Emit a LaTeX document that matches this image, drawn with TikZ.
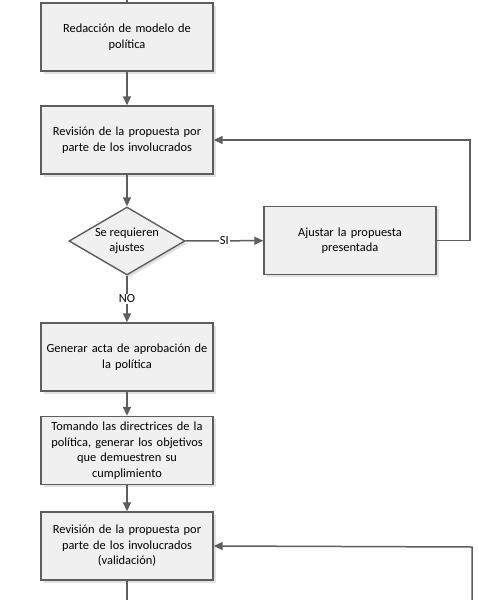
\documentclass[tikz,border=0pt]{standalone}
\usepackage{fontspec}
\setmainfont{Carlito}
\usetikzlibrary{arrows.meta,shapes.geometric,shadows}
\definecolor{boxfill}{HTML}{F0F0F0}
\definecolor{edgegray}{HTML}{5E5E5E}
\definecolor{shadowgray}{HTML}{E2E2E2}
\begin{document}
\begin{tikzpicture}[x=1pt,y=-1pt,
  every node/.style={font=\fontsize{12.4}{15.5}\selectfont, text=black},
  proc/.style={draw=edgegray, line width=1.4pt, fill=boxfill, minimum width=172pt, minimum height=68pt,
    align=center, text width=166pt, inner sep=0pt,
    drop shadow={shadow xshift=2.5pt, shadow yshift=-2.5pt, fill=shadowgray, opacity=1}},
  decis/.style={draw=edgegray, line width=1.4pt, fill=boxfill, diamond, aspect=1.7, inner sep=0pt,
    minimum width=116pt, minimum height=68pt, align=center,
    drop shadow={shadow xshift=2.5pt, shadow yshift=-2.5pt, fill=shadowgray, opacity=1}},
  conn/.style={draw=edgegray, line width=1.5pt},
  arr/.style={conn, -{Triangle[width=8pt,length=9pt]}},
  lbl/.style={fill=white, inner sep=1pt}
]
\useasboundingbox (0,0) rectangle (479,600);
\node[proc] (b1) at (127,37) {Redacción de modelo de\\política};
\node[proc] (b2) at (127,140) {Revisión de la propuesta por\\parte de los involucrados};
\node[decis] (d1) at (127,241) {Se requieren\\ajustes};
\node[proc] (b3) at (350,240.5) {Ajustar la propuesta\\presentada};
\node[proc] (b4) at (127,357) {Generar acta de aprobación de\\la política};
\node[proc] (b5) at (127,450.5) {Tomando las directrices de la\\política, generar los objetivos\\que demuestren su\\cumplimiento};
\node[proc] (b6) at (127,546) {Revisión de la propuesta por\\parte de los involucrados\\(validación)};

\coordinate (top) at (127,0);
\coordinate (r1) at (470,240.5);
\coordinate (r2) at (470,140);
\coordinate (br) at (472,600);
\coordinate (br2) at (472,547);
\coordinate (bot) at (127,600);

\draw[conn] (top) -- (b1.north);
\draw[arr] (b1) -- (b2);
\draw[arr] (b2) -- (d1);
\draw[arr] (d1) -- node[lbl] (si) {SI} (b3);
\draw[arr] (d1) -- node[lbl, pos=0.5] (no) {NO} (b4);
\draw[arr] (b3.east) -- (r1) -- (r2) -- (b2.east);
\draw[arr] (b4) -- (b5);
\draw[arr] (b5) -- (b6);
\draw[arr] (br) -- (br2) -- (b6.east);
\draw[conn] (b6) -- (bot);
\end{tikzpicture}
\end{document}
